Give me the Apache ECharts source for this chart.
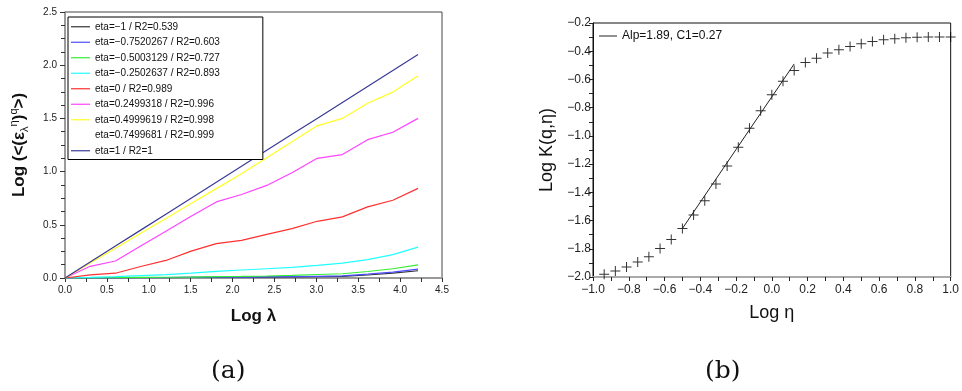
<!DOCTYPE html>
<html>
<head>
<meta charset="utf-8">
<script src="https://cdn.jsdelivr.net/npm/echarts@6/dist/echarts.min.js"></script>
<style>
html,body{margin:0;padding:0;background:#fff;}
#c{width:962px;height:391px;}
</style>
</head>
<body>
<div id="c"></div>
<script>
// ---- Panel (a) data ----
var logLambda = [0, 0.301, 0.602, 0.903, 1.204, 1.505, 1.806, 2.107, 2.408, 2.709, 3.010, 3.311, 3.612, 3.913, 4.214];
var seriesNamesA = [
  'eta=\u22121 / R2=0.539',
  'eta=\u22120.7520267 / R2=0.603',
  'eta=\u22120.5003129 / R2=0.727',
  'eta=\u22120.2502637 / R2=0.893',
  'eta=0 / R2=0.989',
  'eta=0.2499318 / R2=0.996',
  'eta=0.4999619 / R2=0.998',
  'eta=0.7499681 / R2=0.999',
  'eta=1 / R2=1'
];
var etaM100 = [0, 0.001, 0.002, 0.003, 0.004, 0.005, 0.006, 0.007, 0.009, 0.011, 0.013, 0.016, 0.028, 0.045, 0.068];
var etaM075 = [0, 0.001, 0.002, 0.003, 0.004, 0.006, 0.007, 0.009, 0.011, 0.013, 0.016, 0.020, 0.036, 0.055, 0.083];
var etaM050 = [0, 0.002, 0.003, 0.005, 0.007, 0.009, 0.012, 0.015, 0.019, 0.025, 0.033, 0.040, 0.061, 0.087, 0.124];
var etaM025 = [0, 0.005, 0.012, 0.022, 0.032, 0.045, 0.062, 0.075, 0.087, 0.100, 0.118, 0.140, 0.172, 0.219, 0.290];
var eta000 = [0, 0.030, 0.045, 0.108, 0.165, 0.253, 0.323, 0.354, 0.410, 0.464, 0.533, 0.574, 0.668, 0.731, 0.842];
var eta025 = [0, 0.110, 0.160, 0.300, 0.440, 0.580, 0.715, 0.785, 0.870, 0.990, 1.125, 1.160, 1.300, 1.370, 1.500];
var eta050 = [0, 0.140, 0.280, 0.420, 0.560, 0.700, 0.840, 0.980, 1.130, 1.280, 1.430, 1.500, 1.643, 1.747, 1.900];
var eta075 = [0, 0.145, 0.290, 0.435, 0.580, 0.725, 0.870, 1.015, 1.165, 1.315, 1.465, 1.575, 1.720, 1.850, 2.000];
var eta100 = [0, 0.150, 0.300, 0.450, 0.600, 0.750, 0.900, 1.050, 1.200, 1.350, 1.500, 1.650, 1.800, 1.950, 2.100];
var colorsA = ['#333333', '#4d4dff', '#33ee33', '#22ffff', '#ff3030', '#ff44ff', '#ffff22', '#ffffff', '#3a3a96'];
var xTicksA = [0, 4.5, 0.5];
var yTicksA = [0, 2.5, 0.5];

// ---- Panel (b) data ----
var logEta = [-0.9375, -0.875, -0.8125, -0.75, -0.6875, -0.625, -0.5625, -0.5,
  -0.4375, -0.375, -0.3125, -0.25, -0.1875, -0.125, -0.0625, 0,
  0.0625, 0.125, 0.1875, 0.25, 0.3125, 0.375, 0.4375, 0.5,
  0.5625, 0.625, 0.6875, 0.75, 0.8125, 0.875, 0.9375, 1.0];
var logK = [-1.980, -1.957, -1.929, -1.893, -1.857, -1.798, -1.734, -1.656,
  -1.561, -1.460, -1.341, -1.213, -1.081, -0.946, -0.821, -0.709,
  -0.612, -0.537, -0.480, -0.449, -0.413, -0.390, -0.366, -0.347,
  -0.331, -0.319, -0.311, -0.304, -0.301, -0.300, -0.300, -0.300];
var fitX = [-0.5, 0.125];
var fitY = [-1.656, -0.490];
var fitName = 'Alp=1.89, C1=0.27';
var xTicksB = [-1, 1, 0.2];
var yTicksB = [-2.0, -0.2, 0.2];

function zip(xs, ys) { return xs.map(function (x, i) { return [x, ys[i]]; }); }
function fmt(v) { return v.toFixed(1).replace('-', '\u2212'); }

var valuesA = [etaM100, etaM075, etaM050, etaM025, eta000, eta025, eta050, eta075, eta100];
var seriesA = valuesA.map(function (vals, i) {
  return {
    name: seriesNamesA[i], type: 'line', xAxisIndex: 0, yAxisIndex: 0,
    data: zip(logLambda, vals), symbol: 'none', smooth: false,
    z: i === 7 ? 1 : 3,
    lineStyle: { color: colorsA[i], width: 1.2 },
    itemStyle: { color: colorsA[i] }
  };
});

var FONT = 'Liberation Sans, Arial, sans-serif';
var chart = echarts.init(document.getElementById('c'), null, { renderer: 'canvas' });
chart.setOption({
  animation: false,
  backgroundColor: '#ffffff',
  grid: [
    { left: 65, top: 12, right: 520, bottom: 113, show: true, borderColor: '#444', borderWidth: 1, backgroundColor: 'transparent' },
    { left: 593, top: 23, right: 11, bottom: 114, show: true, borderColor: '#111', borderWidth: 1, backgroundColor: 'transparent' }
  ],
  legend: [
    {
      data: seriesNamesA.map(function (n) { return { name: n, icon: 'rect' }; }),
      orient: 'vertical', left: 68, top: 17,
      borderColor: '#000', borderWidth: 1, padding: [2, 43, 1, 3],
      itemWidth: 19, itemHeight: 1.2, itemGap: 0,
      textStyle: { fontSize: 10, fontFamily: FONT, color: '#111', lineHeight: 15.5 },
      backgroundColor: '#fff'
    },
    {
      data: [{ name: fitName, icon: 'rect' }], orient: 'vertical', left: 599, top: 28,
      itemWidth: 18, itemHeight: 1, padding: 0,
      textStyle: { fontSize: 12, fontFamily: FONT, color: '#111', lineHeight: 16 }
    }
  ],
  xAxis: [
    {
      gridIndex: 0, type: 'value', min: xTicksA[0], max: xTicksA[1], interval: xTicksA[2],
      name: 'Log \u03bb', nameLocation: 'middle', nameGap: 30,
      nameTextStyle: { fontSize: 17, fontWeight: 'bold', fontFamily: FONT, color: '#111' },
      axisLine: { show: true, onZero: false, lineStyle: { color: '#999', width: 2 } },
      axisTick: { show: true, length: 4, lineStyle: { color: '#333' } },
      minorTick: { show: true, splitNumber: 2, length: 4, lineStyle: { color: '#333' } },
      axisLabel: { fontSize: 10, fontFamily: FONT, color: '#222', margin: 7, formatter: fmt },
      splitLine: { show: false }
    },
    {
      gridIndex: 1, type: 'value', min: xTicksB[0], max: xTicksB[1], interval: xTicksB[2],
      name: 'Log \u03b7', nameLocation: 'middle', nameGap: 27,
      nameTextStyle: { fontSize: 18, fontFamily: FONT, color: '#111' },
      axisLine: { show: true, onZero: false, lineStyle: { color: '#aaa', width: 2 } },
      axisTick: { show: true, length: 4, lineStyle: { color: '#222' } },
      minorTick: { show: true, splitNumber: 2, length: 4, lineStyle: { color: '#222' } },
      axisLabel: { fontSize: 12, fontFamily: FONT, color: '#222', margin: 7, formatter: fmt },
      splitLine: { show: false }
    }
  ],
  yAxis: [
    {
      gridIndex: 0, type: 'value', min: yTicksA[0], max: yTicksA[1], interval: yTicksA[2],
      name: '{a|Log (<(\u03b5}{s|\u03bb}{u|\u03b7}{a|)}{u|q}{a|>)}',
      nameLocation: 'middle', nameGap: 35,
      nameTextStyle: {
        fontFamily: FONT, color: '#111',
        rich: {
          a: { fontSize: 17, fontWeight: 'bold', fontFamily: FONT, color: '#111', lineHeight: 22, verticalAlign: 'middle' },
          s: { fontSize: 11, fontFamily: FONT, color: '#111', verticalAlign: 'bottom', lineHeight: 22 },
          u: { fontSize: 11, fontFamily: FONT, color: '#111', verticalAlign: 'top', lineHeight: 22 }
        }
      },
      axisLine: { show: true, onZero: false, lineStyle: { color: '#999', width: 1.5 } },
      axisTick: { show: true, length: 5, lineStyle: { color: '#333' } },
      minorTick: { show: true, splitNumber: 4, length: 4, lineStyle: { color: '#333' } },
      axisLabel: { fontSize: 10, fontFamily: FONT, color: '#222', margin: 8, formatter: fmt },
      splitLine: { show: false }
    },
    {
      gridIndex: 1, type: 'value', min: yTicksB[0], max: yTicksB[1], interval: yTicksB[2],
      name: 'Log K(q,\u03b7)', nameLocation: 'middle', nameGap: 37,
      nameTextStyle: { fontSize: 18, fontFamily: FONT, color: '#111' },
      axisLine: { show: true, onZero: false, lineStyle: { color: '#111', width: 1 } },
      axisTick: { show: true, length: 4, lineStyle: { color: '#222' } },
      minorTick: { show: true, splitNumber: 2, length: 4, lineStyle: { color: '#222' } },
      axisLabel: { fontSize: 12, fontFamily: FONT, color: '#222', margin: 2, formatter: fmt },
      splitLine: { show: false }
    }
  ],
  series: seriesA.concat([
    {
      name: 'points', type: 'scatter', xAxisIndex: 1, yAxisIndex: 1,
      data: zip(logEta, logK),
      symbol: 'path://M0,4.5H10V5.5H0ZM4.5,0H5.5V10H4.5Z', symbolSize: 10,
      itemStyle: { color: '#000' }
    },
    {
      name: fitName, type: 'line', xAxisIndex: 1, yAxisIndex: 1,
      data: zip(fitX, fitY), symbol: 'none',
      lineStyle: { color: '#222', width: 1 }, itemStyle: { color: '#222' }
    }
  ]),
  graphic: [
    { type: 'text', left: 211, top: 359, style: { text: '(a)', fontSize: 25, fontFamily: 'DejaVu Serif, Liberation Serif, serif', fill: '#111' } },
    { type: 'text', left: 705, top: 359, style: { text: '(b)', fontSize: 25, fontFamily: 'DejaVu Serif, Liberation Serif, serif', fill: '#111' } }
  ]
});
</script>
</body>
</html>
